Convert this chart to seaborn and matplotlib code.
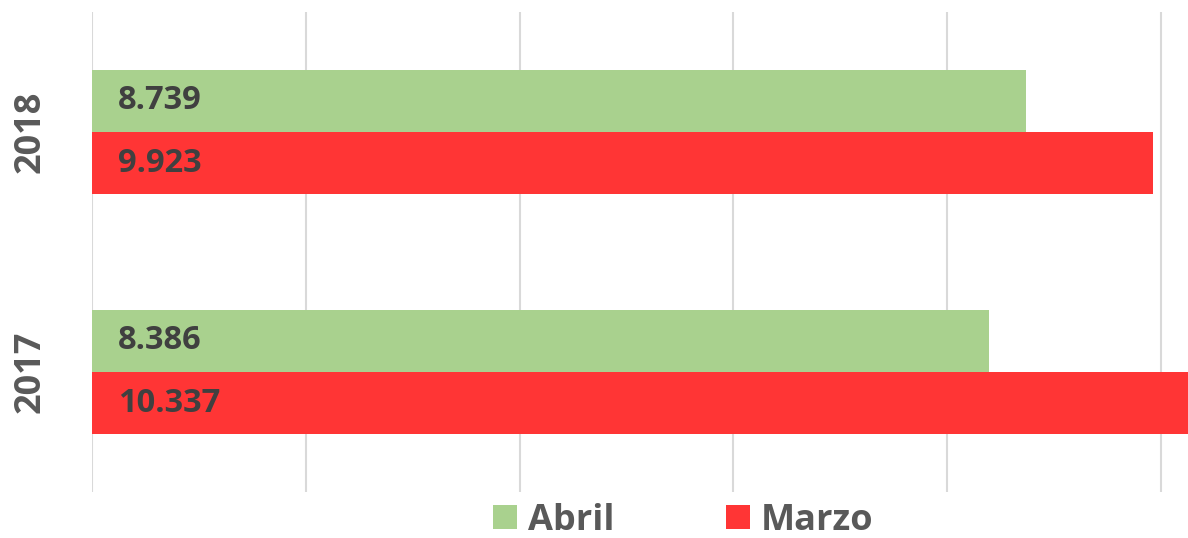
import matplotlib
matplotlib.use("Agg")
import matplotlib.pyplot as plt
import seaborn as sns
import pandas as pd

years = ["2018", "2017"]
months = ["Abril", "Marzo"]
abril = [8739, 8386]
marzo = [9923, 10337]
colors = {"Abril": "#A9D18E", "Marzo": "#FF3535"}

df = pd.DataFrame({
    "year": years * 2,
    "month": ["Abril"] * len(years) + ["Marzo"] * len(years),
    "value": abril + marzo,
})

sns.set_style("white")
plt.rcParams["font.family"] = ["Open Sans", "DejaVu Sans"]
plt.rcParams["font.weight"] = "bold"

fig = plt.figure(figsize=(11.88, 5.38), dpi=100)
ax = fig.add_axes([92 / 1188, 1 - 492 / 538, 1 - 92 / 1188, 480 / 538])

sns.barplot(data=df, x="value", y="year", hue="month", order=years,
            hue_order=months, palette=colors, orient="h", width=0.52,
            saturation=1, linewidth=0, ax=ax, legend=True)

ax.set_xlim(0, 10252)
ax.set_ylim(1.5, -0.5)
ax.set_xticks(range(0, 10001, 2000))
ax.set_xticklabels([])
ax.tick_params(axis="x", length=0)
ax.grid(axis="x", color="#D9D9D9", linewidth=1.5)
ax.set_axisbelow(True)
for s in ax.spines.values():
    s.set_visible(False)
ax.set_xlabel("")
ax.set_ylabel("")
ax.tick_params(axis="y", length=0, pad=31)
for lab in ax.get_yticklabels():
    lab.set_rotation(90)
    lab.set_fontsize(26)
    lab.set_fontweight("bold")
    lab.set_color("#595959")
    lab.set_va("center")

for cont in ax.containers:
    for bar in cont:
        w = bar.get_width()
        txt = f"{int(w):,}".replace(",", ".")
        ax.annotate(txt, (0, bar.get_y() + bar.get_height() / 2),
                    xytext=(18.5, 0), textcoords="offset points",
                    ha="left", va="center", fontsize=23.5, fontweight="bold",
                    color="#404040")

handles, labels = ax.get_legend_handles_labels()
ax.get_legend().remove()
leg = fig.legend(handles, labels, loc="center", bbox_to_anchor=(0.575, 0.032),
                 ncol=2, frameon=False, fontsize=26, handlelength=0.66,
                 handleheight=0.66, handletextpad=0.3, columnspacing=3.1,
                 borderaxespad=0)
for t in leg.get_texts():
    t.set_color("#595959")
    t.set_fontweight("bold")

fig.savefig("out.png", dpi=100)
